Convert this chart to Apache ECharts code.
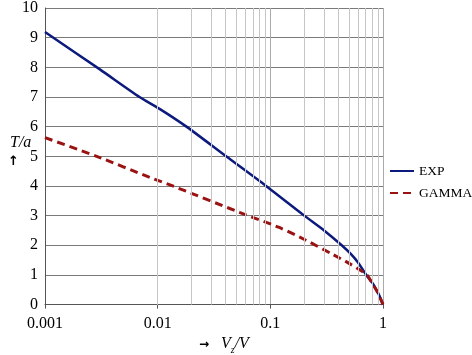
<!DOCTYPE html>
<html><head><meta charset="utf-8">
<script src="https://cdn.jsdelivr.net/npm/echarts@6/dist/echarts.min.js"></script>
<style>html,body{margin:0;padding:0;background:#fff}#c{width:472px;height:355px}</style>
</head><body><div id="c"></div>
<script>
// Data
const expX   = [0.001, 0.00307, 0.0069, 0.0104, 0.018, 0.0405, 0.0916, 0.2, 0.3, 0.43, 0.52, 0.6, 0.71, 0.8, 0.86, 0.93, 1];
const expY   = [9.19, 7.93, 7.0, 6.6, 6.0, 5.0, 4.0, 3.0, 2.5, 2.0, 1.7, 1.42, 1.0, 0.75, 0.55, 0.3, 0];
const gammaX = [0.001, 0.00287, 0.0085, 0.0136, 0.0532, 0.12, 0.207, 0.355, 0.5, 0.72, 0.8, 0.89, 1];
const gammaY = [5.63, 5.0, 4.29, 4.0, 3.11, 2.6, 2.17, 1.7, 1.39, 1.0, 0.72, 0.43, 0];
const xTickValues = [0.001, 0.01, 0.1, 1];
const xTickLabels = ['0.001', '0.01', '0.1', '1'];
const minorX = [0.002,0.003,0.004,0.005,0.006,0.007,0.008,0.009,
                0.02,0.03,0.04,0.05,0.06,0.07,0.08,0.09,
                0.2,0.3,0.4,0.5,0.6,0.7,0.8,0.9];
const yMin = 0, yMax = 10, yStep = 1;

const serif = '"Liberation Serif", "DejaVu Serif", serif';
const chart = echarts.init(document.getElementById('c'), null, {renderer: 'canvas'});
function lbl(v){
  for (let i = 0; i < xTickValues.length; i++) {
    if (Math.abs(Math.log10(v) - Math.log10(xTickValues[i])) < 1e-6) return xTickLabels[i];
  }
  return '';
}
chart.setOption({
  animation: false,
  backgroundColor: '#fff',
  grid: {left: 45, top: 8, width: 338, height: 296.6, containLabel: false},
  xAxis: {
    type: 'log', logBase: 10, min: 0.001, max: 1,
    axisLine: {show: true, lineStyle: {color: '#555', width: 1}},
    axisTick: {show: true, length: 4, lineStyle: {color: '#555'}},
    axisLabel: {formatter: lbl, color: '#000', fontFamily: serif, fontSize: 16, margin: 11},
    splitLine: {show: true, lineStyle: {color: '#aaaaaa', width: 1}},
    minorTick: {show: false}, minorSplitLine: {show: false}
  },
  yAxis: {
    type: 'value', min: yMin, max: yMax, interval: yStep,
    axisLine: {show: true, lineStyle: {color: '#555', width: 1}},
    axisTick: {show: false},
    axisLabel: {color: '#000', fontFamily: serif, fontSize: 16, margin: 7},
    splitLine: {show: true, lineStyle: {color: '#7a7a7a', width: 1}}
  },
  legend: {
    data: ['EXP', 'GAMMA'], orient: 'vertical', left: 389, top: 164, padding: 0,
    itemWidth: 24, itemHeight: 14, itemGap: 8,
    itemStyle: {color: 'rgba(0,0,0,0)', borderColor: 'rgba(0,0,0,0)', borderWidth: 0},
    textStyle: {color: '#000', fontFamily: serif, fontSize: 13.5}
  },
  graphic: [
    {type: 'text', left: 10, top: 135, style: {text: 'T/a', font: 'italic 16px ' + serif, fill: '#000'}},
    {type: 'text', left: 8, top: 155, style: {text: '↑', font: 'bold 13px "DejaVu Sans"', fill: '#000'}},
    {type: 'text', left: 199, top: 339, style: {text: '→', font: 'bold 12px "DejaVu Sans"', fill: '#000'}},
    {type: 'text', left: 221, top: 336, style: {
      text: '{i|V}{s|z}{i|/V}',
      rich: {
        i: {font: 'italic 16px ' + serif, fill: '#000', verticalAlign: 'top'},
        s: {font: 'italic 10px ' + serif, fill: '#000', padding: [9, 0, 0, 0], verticalAlign: 'top'}
      }
    }}
  ],
  series: [
    {
      name: 'grid', type: 'line', data: [], silent: true, z: 1,
      markLine: {
        silent: true, symbol: 'none', label: {show: false},
        lineStyle: {color: '#c6c6c6', type: 'solid', width: 1},
        data: minorX.map(v => ({xAxis: v}))
      }
    },
    {
      name: 'EXP', type: 'line', z: 3, symbol: 'none', smooth: 0.25,
      data: expX.map((x, i) => [x, expY[i]]),
      lineStyle: {color: '#0b1a7c', width: 2.5},
      itemStyle: {color: '#0b1a7c'}
    },
    {
      name: 'GAMMA', type: 'line', z: 4, symbol: 'none', smooth: 0.25,
      data: gammaX.map((x, i) => [x, gammaY[i]]),
      lineStyle: {color: '#9a1212', width: 3, type: [8, 5]},
      itemStyle: {color: '#9a1212'}
    }
  ]
});
</script></body></html>
